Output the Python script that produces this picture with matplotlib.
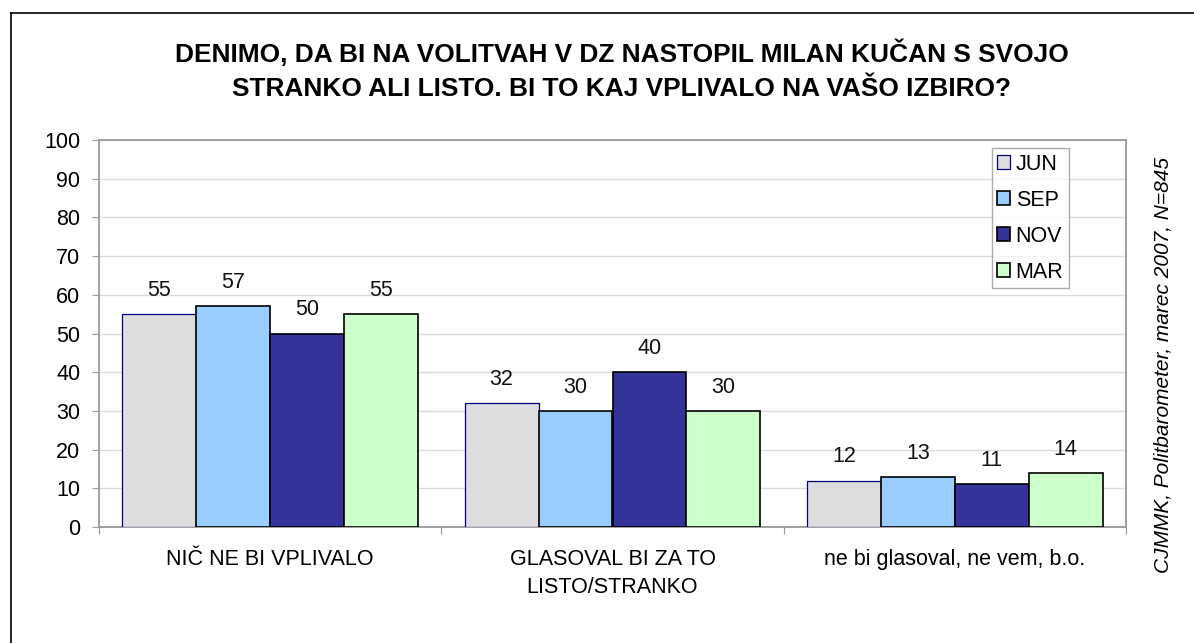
import matplotlib
matplotlib.use("Agg")
import matplotlib.pyplot as plt
from matplotlib.lines import Line2D
import numpy as np

plt.rcParams['font.family'] = ['Liberation Sans', 'DejaVu Sans']

# survey answers per wave
categories = ["NIČ NE BI VPLIVALO", "GLASOVAL BI ZA TO\nLISTO/STRANKO", "ne bi glasoval, ne vem, b.o."]
series_names = ["JUN", "SEP", "NOV", "MAR"]
jun = [55, 32, 12]
sep = [57, 30, 13]
nov = [50, 40, 11]
mar = [55, 30, 14]

title = "DENIMO, DA BI NA VOLITVAH V DZ NASTOPIL MILAN KUČAN S SVOJO\nSTRANKO ALI LISTO. BI TO KAJ VPLIVALO NA VAŠO IZBIRO?"
source = "CJMMK, Politbarometer, marec 2007, N=845"

face_colors = ["#DDDDDD", "#99CCFF", "#333399", "#CCFFCC"]
edge_colors = ["#000080", "#000000", "#000000", "#000000"]
edge_widths = [0.9, 1.2, 1.2, 1.2]

FS = 15.5
W, H = 1194, 643
fig = plt.figure(figsize=(W / 100, H / 100), dpi=100)
ax = fig.add_axes([99 / W, 1 - 527 / H, (1126 - 99) / W, (527 - 140) / H])

bar_w = 0.216
centers = np.arange(len(categories)) + 0.5
for j, (name, vals) in enumerate(zip(series_names, [jun, sep, nov, mar])):
    xs = centers + (j - 1.5) * bar_w
    ax.bar(xs, vals, width=bar_w, color=face_colors[j], edgecolor=edge_colors[j],
           linewidth=edge_widths[j], label=name, zorder=3)
    for x, v in zip(xs, vals):
        ax.annotate(str(v), (x, v), xytext=(0, 17), textcoords="offset points",
                    ha="center", va="center", fontsize=FS, color="#111111")

ax.set_xlim(0, len(categories))
ax.set_ylim(0, 100)
ax.set_yticks(np.arange(0, 101, 10))
ax.yaxis.grid(True, color="#dcdcdc", linewidth=1.0, zorder=0)
ax.set_axisbelow(True)

ax.set_xticks(np.arange(0, len(categories) + 1))
ax.set_xticklabels([])
ax.set_xticks(centers, minor=True)
ax.set_xticklabels(categories, minor=True, fontsize=FS, linespacing=1.45)
ax.tick_params(axis="x", which="minor", length=0, pad=16)
ax.tick_params(axis="x", which="major", length=5, color="#999999", direction="out")
ax.tick_params(axis="y", length=5, color="#999999", labelsize=FS, pad=8.5)

for side in ["left", "right", "top", "bottom"]:
    ax.spines[side].set_color("#999999")
    ax.spines[side].set_linewidth(1.3)

leg = ax.legend(loc="upper left", bbox_to_anchor=(0.8695, 0.979), fontsize=FS,
                frameon=True, fancybox=False, edgecolor="#999999", handlelength=0.6,
                handleheight=0.6, handletextpad=0.25, labelspacing=0.7,
                borderpad=0.25, borderaxespad=0)
leg.get_frame().set_linewidth(1.0)

fig.text(622 / W, 1 - 70 / H, title, ha="center", va="center", fontsize=18.9,
         fontweight="bold", linespacing=1.55)
fig.text(1163 / W, 1 - 365 / H, source, rotation=90, ha="center", va="center",
         fontsize=15, style="italic")

# outer frame around the chart
fig.add_artist(Line2D([11 / W, 11 / W], [0, 1 - 13 / H], color="black", linewidth=1.2,
                      transform=fig.transFigure))
fig.add_artist(Line2D([11 / W, 1], [1 - 13 / H, 1 - 13 / H], color="black", linewidth=1.2,
                      transform=fig.transFigure))

fig.savefig("out.png", dpi=100)
